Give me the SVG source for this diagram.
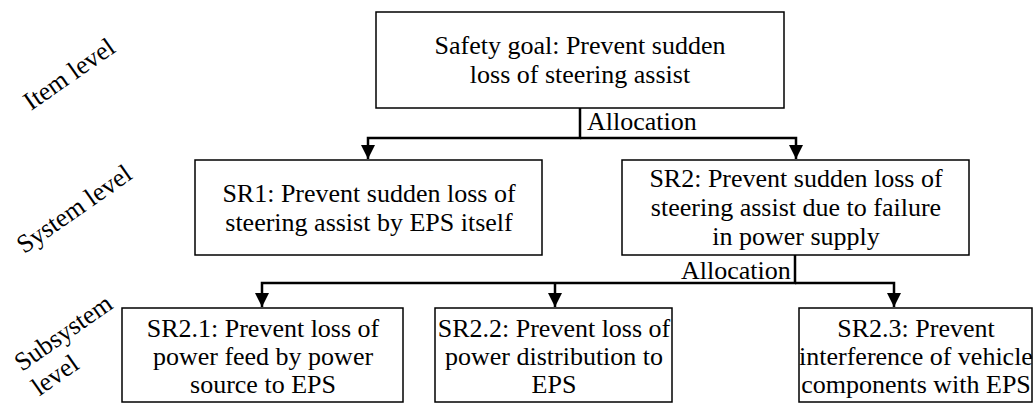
<svg xmlns="http://www.w3.org/2000/svg" width="1035" height="403" viewBox="0 0 1035 403">
  <defs>
    <marker id="arrow" markerUnits="userSpaceOnUse" markerWidth="16" markerHeight="16" viewBox="0 0 16 16" refX="15" refY="8" orient="auto">
      <path d="M1,1 L15,8 L1,15 Z" fill="#000"/>
    </marker>
  </defs>

  <!-- level labels -->
  <g id="level-item">
    <text style="font-family:'Liberation Serif',serif;font-size:26px" text-anchor="middle" transform="translate(74,81) rotate(-35)">Item level</text>
  </g>
  <g id="level-system">
    <text style="font-family:'Liberation Serif',serif;font-size:26px" text-anchor="middle" transform="translate(79,216) rotate(-35)">System level</text>
  </g>
  <g id="level-subsystem" transform="translate(22,372) rotate(-35)">
    <text style="font-family:'Liberation Serif',serif;font-size:26px" x="0" y="0">Subsystem</text>
    <text style="font-family:'Liberation Serif',serif;font-size:26px" x="0" y="30">level</text>
  </g>

  <!-- connectors -->
  <g id="connectors" fill="none" stroke="#000" stroke-width="2.5">
    <path d="M580,108 V138 H368 V159" marker-end="url(#arrow)"/>
    <path d="M580,138 H796 V159" marker-end="url(#arrow)"/>
    <path d="M795,255 V283 H262 V307" marker-end="url(#arrow)"/>
    <path d="M555,283 V307" marker-end="url(#arrow)"/>
    <path d="M795,283 H894 V307" marker-end="url(#arrow)"/>
  </g>
  <g id="connector-labels">
    <text style="font-family:'Liberation Serif',serif;font-size:26px" x="587" y="130">Allocation</text>
    <text style="font-family:'Liberation Serif',serif;font-size:26px" x="681" y="279">Allocation</text>
  </g>

  <!-- safety goal -->
  <g id="safety-goal">
    <rect x="376" y="12" width="408" height="96" fill="#fff" stroke="#000" stroke-width="1.5"/>
    <text style="font-family:'Liberation Serif',serif;font-size:26px" text-anchor="middle" x="580" y="54">Safety goal: Prevent sudden</text>
    <text style="font-family:'Liberation Serif',serif;font-size:26px" text-anchor="middle" x="580" y="83">loss of steering assist</text>
  </g>

  <!-- system level requirements -->
  <g id="sr1">
    <rect x="195" y="160" width="347" height="95" fill="#fff" stroke="#000" stroke-width="1.5"/>
    <text style="font-family:'Liberation Serif',serif;font-size:26px" text-anchor="middle" x="369" y="202">SR1: Prevent sudden loss of</text>
    <text style="font-family:'Liberation Serif',serif;font-size:26px" text-anchor="middle" x="369" y="231">steering assist by EPS itself</text>
  </g>
  <g id="sr2">
    <rect x="622" y="160" width="347" height="95" fill="#fff" stroke="#000" stroke-width="1.5"/>
    <text style="font-family:'Liberation Serif',serif;font-size:26px" text-anchor="middle" x="796" y="187">SR2: Prevent sudden loss of</text>
    <text style="font-family:'Liberation Serif',serif;font-size:26px" text-anchor="middle" x="796" y="216">steering assist due to failure</text>
    <text style="font-family:'Liberation Serif',serif;font-size:26px" text-anchor="middle" x="796" y="245">in power supply</text>
  </g>

  <!-- subsystem level requirements -->
  <g id="sr2-1">
    <rect x="122" y="308" width="281" height="94" fill="#fff" stroke="#000" stroke-width="1.5"/>
    <text style="font-family:'Liberation Serif',serif;font-size:26px" text-anchor="middle" x="263" y="337">SR2.1: Prevent loss of</text>
    <text style="font-family:'Liberation Serif',serif;font-size:26px" text-anchor="middle" x="263" y="365">power feed by power</text>
    <text style="font-family:'Liberation Serif',serif;font-size:26px" text-anchor="middle" x="263" y="393">source to EPS</text>
  </g>
  <g id="sr2-2">
    <rect x="435" y="308" width="237" height="94" fill="#fff" stroke="#000" stroke-width="1.5"/>
    <text style="font-family:'Liberation Serif',serif;font-size:26px" text-anchor="middle" x="554" y="337">SR2.2: Prevent loss of</text>
    <text style="font-family:'Liberation Serif',serif;font-size:26px" text-anchor="middle" x="554" y="365">power distribution to</text>
    <text style="font-family:'Liberation Serif',serif;font-size:26px" text-anchor="middle" x="554" y="393">EPS</text>
  </g>
  <g id="sr2-3">
    <rect x="799" y="308" width="233" height="94" fill="#fff" stroke="#000" stroke-width="1.5"/>
    <text style="font-family:'Liberation Serif',serif;font-size:26px" text-anchor="middle" x="916" y="337">SR2.3: Prevent</text>
    <text style="font-family:'Liberation Serif',serif;font-size:26px" text-anchor="middle" x="916" y="365">interference of vehicle</text>
    <text style="font-family:'Liberation Serif',serif;font-size:26px" text-anchor="middle" x="916" y="393">components with EPS</text>
  </g>
</svg>
